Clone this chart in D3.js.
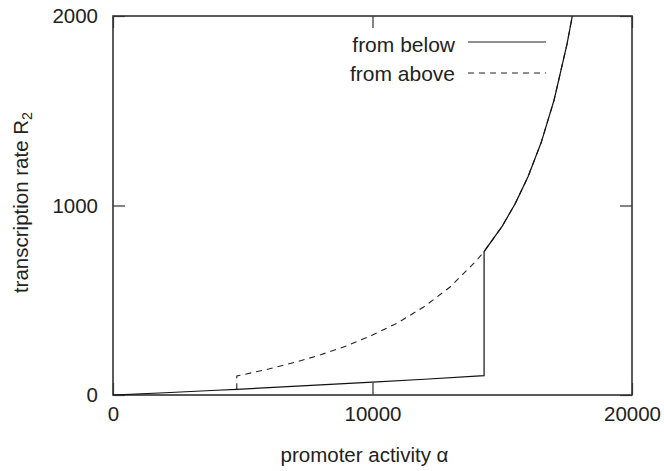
<!DOCTYPE html>
<html>
<head>
<meta charset="utf-8">
<script src="https://cdn.jsdelivr.net/npm/d3@7"></script>
<style>
  html, body { margin: 0; padding: 0; background: #fff; }
  svg { display: block; font-family: "Liberation Sans", Arial, Helvetica, sans-serif; }
</style>
</head>
<body>
<svg id="chart" width="664" height="471"></svg>
<script>
// Lower branch ("from below", solid)
const lowerAlpha = [0, 2000, 4000, 4770, 6000, 8000, 10000, 12000, 14300];
const lowerR2    = [0, 12, 25, 30, 39, 53, 68, 83, 102];

// Upper branch
const upperAlpha = [4770, 6000, 7000, 8000, 9000, 10000, 11000, 12000, 13000, 14000, 14300, 15000, 15500, 16000, 16500, 17000, 17500, 17700];
const upperR2    = [100, 137, 172, 212, 259, 316, 383, 467, 571, 708, 757, 891, 1010, 1154, 1332, 1558, 1854, 2001];

// jump points
const jumpUpAlpha = 14300;    // from below: jumps up here
const jumpDownAlpha = 4770;   // from above: drops down here

const xTicks = [0, 10000, 20000];
const yTicks = [0, 1000, 2000];
const seriesNames = ["from below", "from above"];

const W = 664, H = 471;
const margin = {left: 113, right: 32, top: 16, bottom: 76};
const iw = W - margin.left - margin.right;
const ih = H - margin.top - margin.bottom;

const svg = d3.select("#chart");
const g = svg.append("g").attr("transform", `translate(${margin.left},${margin.top})`);

const x = d3.scaleLinear().domain([0, 20000]).range([0, iw]);
const y = d3.scaleLinear().domain([0, 2000]).range([ih, 0]);

const textColor = "#222";
const frameColor = "#333";
const fontSize = 20.5;

// clip
svg.append("defs").append("clipPath").attr("id", "clip")
  .append("rect").attr("width", iw).attr("height", ih);

// Axes with inward ticks
const axB = g.append("g").attr("transform", `translate(0,${ih})`)
  .call(d3.axisBottom(x).tickValues(xTicks).tickSize(-12).tickPadding(11).tickFormat(d3.format("d")));
const axT = g.append("g")
  .call(d3.axisTop(x).tickValues(xTicks).tickSize(-12).tickFormat(""));
const axL = g.append("g")
  .call(d3.axisLeft(y).tickValues(yTicks).tickSize(-12).tickPadding(15).tickFormat(d3.format("d")));
const axR = g.append("g").attr("transform", `translate(${iw},0)`)
  .call(d3.axisRight(y).tickValues(yTicks).tickSize(-12).tickFormat(""));

[axB, axT, axL, axR].forEach(a => {
  a.select(".domain").remove();
  a.selectAll(".tick line").attr("stroke", frameColor).attr("stroke-width", 1.2);
  a.selectAll(".tick text").attr("fill", textColor).attr("font-size", fontSize)
    .attr("font-family", "Liberation Sans, Arial, sans-serif");
});

// Frame
g.append("rect").attr("x", 0).attr("y", 0).attr("width", iw).attr("height", ih)
  .attr("fill", "none").attr("stroke", frameColor).attr("stroke-width", 1.6);

const line = d3.line().x(d => x(d[0])).y(d => y(d[1]));

// "from above" dashed: upper branch from top down to drop point, then drop to lower branch
const lowerAtDrop = lowerR2[lowerAlpha.indexOf(jumpDownAlpha)];
const abovePts = [[jumpDownAlpha, lowerAtDrop]].concat(upperAlpha.map((a, i) => [a, upperR2[i]]));
g.append("path").datum(abovePts).attr("clip-path", "url(#clip)")
  .attr("d", line).attr("fill", "none").attr("stroke", "#222")
  .attr("stroke-width", 1.1).attr("stroke-dasharray", "6,5");

// "from below" solid: lower branch to jump, then jump up and follow upper branch
const belowPts = lowerAlpha.map((a, i) => [a, lowerR2[i]])
  .concat(upperAlpha.map((a, i) => [a, upperR2[i]]).filter(d => d[0] >= jumpUpAlpha));
g.append("path").datum(belowPts).attr("clip-path", "url(#clip)")
  .attr("d", line).attr("fill", "none").attr("stroke", "#111")
  .attr("stroke-width", 1.2);

// Legend
const legend = g.append("g");
const legLineY = [42, 73];
const legTextY = [51.5, 80.5];
seriesNames.forEach((name, i) => {
  legend.append("text").attr("x", 455 - margin.left).attr("y", legTextY[i] - margin.top)
    .attr("text-anchor", "end")
    .attr("font-size", 21).attr("fill", textColor).text(name);
  legend.append("line").attr("x1", 468 - margin.left).attr("x2", 546 - margin.left)
    .attr("y1", legLineY[i] - margin.top).attr("y2", legLineY[i] - margin.top)
    .attr("stroke", "#222").attr("stroke-width", 1.1)
    .attr("stroke-dasharray", i === 1 ? "6,5" : null);
});

// Axis titles
svg.append("text").attr("x", margin.left + iw / 2 - 8).attr("y", 462)
  .attr("text-anchor", "middle").attr("font-size", fontSize).attr("fill", textColor)
  .text("promoter activity α");

const yl = svg.append("text")
  .attr("transform", `translate(28,${margin.top + ih / 2 - 3}) rotate(-90)`)
  .attr("text-anchor", "middle").attr("font-size", fontSize).attr("fill", textColor);
yl.append("tspan").text("transcription rate R");
yl.append("tspan").attr("font-size", fontSize * 0.7).attr("dy", "0.3em").text("2");
</script>
</body>
</html>
